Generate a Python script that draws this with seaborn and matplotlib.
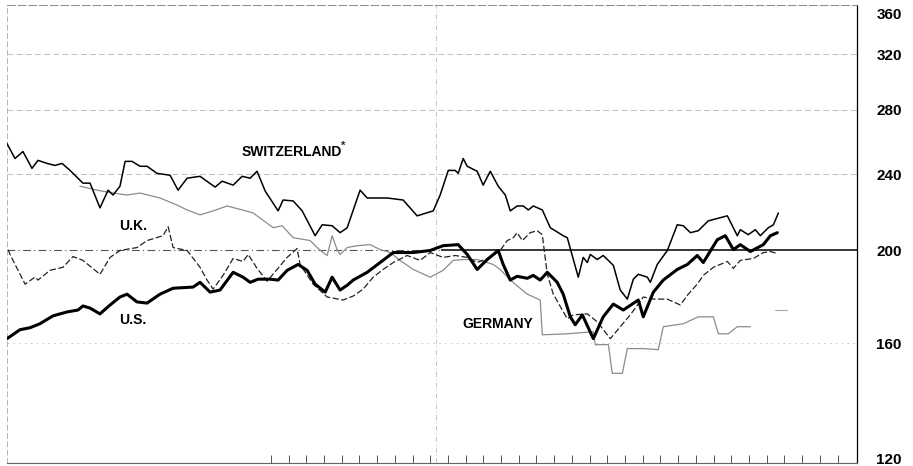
import matplotlib

matplotlib.use("Agg")
import matplotlib.pyplot as plt
import matplotlib.transforms as mtransforms
import seaborn as sns

# x = months from the left edge of the chart, y = index value (log scale)
SWISS_X = [0, 0.45, 0.9, 1.41, 1.75, 2.26, 2.71, 3.11, 3.56, 4.29, 4.69, 5.25, 5.71, 5.99, 6.38,
           6.67, 7.06, 7.51, 7.91, 8.47, 9.21, 9.66, 10.17, 10.9, 11.75, 12.15, 12.77, 13.28, 13.73,
           14.12, 14.58, 15.31, 15.59, 16.16, 16.67, 17.4, 17.8, 18.36, 18.81, 19.21, 19.94, 20.34,
           21.47, 22.37, 23.16, 24.07, 24.46, 24.92, 25.31, 25.48, 25.76, 25.99, 26.55, 26.89, 27.29,
           27.74, 28.14, 28.42, 28.81, 29.15, 29.44, 29.72, 30.23, 30.68, 31.41, 31.64, 32.26, 32.54,
           32.77, 32.94, 33.33, 33.67, 34.24, 34.63, 35.03, 35.37, 35.65, 36.16, 36.33, 36.72, 37.29,
           37.85, 38.19, 38.59, 39.04, 39.6, 40.68, 41.24, 41.41, 41.86, 42.26, 42.54, 42.99, 43.28,
           43.56]
SWISS_Y = [258.2, 249.1, 253.3, 243.3, 248.0, 246.2, 245.0, 246.2, 242.1, 234.8, 234.8, 221.3, 230.9,
           228.2, 233.1, 247.4, 247.4, 244.5, 244.5, 240.4, 239.3, 230.9, 237.6, 238.7, 232.6, 235.9,
           233.7, 238.7, 237.6, 241.6, 230.4, 219.7, 225.5, 225.0, 219.7, 207.0, 212.5, 212.0, 208.5,
           211.0, 230.9, 226.6, 226.6, 225.5, 217.1, 219.7, 228.2, 242.1, 242.1, 240.4, 249.1, 244.5,
           241.6, 233.7, 241.6, 233.1, 228.2, 219.7, 222.3, 222.3, 220.2, 222.3, 220.2, 211.0, 207.0,
           206.0, 187.4, 196.5, 194.1, 197.9, 195.5, 197.4, 192.8, 181.7, 177.8, 186.5, 188.7, 187.4,
           185.1, 193.2, 199.8, 212.5, 212.0, 208.5, 209.5, 214.5, 217.1, 207.0, 210.0, 207.5, 210.0,
           207.0, 211.0, 212.5, 218.6]

US_X = [0, 0.73, 1.3, 1.86, 2.6, 3.39, 4.01, 4.29, 4.69, 5.25, 5.82, 6.38, 6.78, 7.34, 7.91, 8.64,
        9.38, 10.51, 10.9, 11.47, 12.03, 12.77, 13.33, 13.73, 14.18, 14.86, 15.31, 15.82, 16.44,
        16.95, 17.4, 17.97, 18.36, 18.81, 19.21, 19.55, 20.34, 21.07, 21.81, 22.94, 23.9, 24.63,
        25.48, 25.99, 26.55, 27.12, 27.74, 28.02, 28.42, 28.81, 29.38, 29.72, 30.11, 30.51, 31.07,
        31.41, 31.81, 32.09, 32.49, 33.11, 33.67, 34.24, 34.8, 35.31, 35.65, 35.93, 36.5, 37.06,
        37.85, 38.42, 38.98, 39.32, 40.11, 40.56, 41.02, 41.41, 41.98, 42.71, 43.11, 43.5]
US_Y = [161.7, 165.2, 166.0, 167.6, 170.8, 172.4, 173.2, 174.9, 174.0, 171.6, 175.3, 178.7, 179.9,
        176.6, 176.1, 179.9, 182.5, 183.0, 185.1, 180.8, 181.7, 189.6, 187.4, 185.1, 186.5, 186.5,
        186.1, 190.5, 193.2, 190.5, 184.3, 180.8, 187.4, 181.7, 183.8, 186.1, 189.6, 194.1, 198.8,
        198.8, 199.8, 202.1, 202.6, 197.9, 190.9, 195.5, 199.8, 193.2, 186.1, 187.8, 186.9, 188.2,
        186.1, 189.6, 185.1, 179.9, 170.4, 167.2, 171.2, 161.7, 170.4, 175.7, 173.2, 175.7, 177.4,
        170.4, 180.8, 186.1, 190.9, 193.2, 197.4, 194.1, 205.0, 207.0, 200.2, 202.6, 199.3, 202.6,
        207.0, 208.5]

UK_X = [0.06, 0.17, 1.02, 1.58, 1.75, 2.43, 3.16, 3.73, 4.29, 5.25, 5.82, 6.38, 7.34, 7.91, 8.81,
        9.1, 9.38, 10.17, 10.9, 11.3, 11.64, 12.2, 12.77, 13.33, 13.62, 14.12, 14.69, 15.25, 15.82,
        16.38, 16.55, 17.29, 18.08, 18.98, 19.55, 20.11, 20.68, 21.24, 21.81, 22.6, 23.33, 23.9,
        24.63, 25.31, 25.99, 26.55, 27.29, 27.85, 28.25, 28.59, 28.81, 29.1, 29.55, 29.94, 30.23,
        30.34, 30.51, 30.85, 31.64, 31.98, 32.77, 33.33, 34.07, 34.63, 35.2, 35.93, 36.5, 37.29,
        38.02, 38.47, 38.98, 39.32, 39.89, 40.68, 41.02, 41.41, 42.15, 42.71, 43.11, 43.5]
UK_Y = [200.2, 197.9, 184.3, 187.4, 186.1, 190.5, 191.9, 196.9, 195.1, 188.7, 196.5, 199.8, 201.2,
        204.6, 207.0, 211.5, 201.2, 199.8, 191.9, 186.1, 182.1, 188.2, 196.0, 194.6, 197.9, 191.4,
        185.6, 190.9, 196.5, 200.7, 193.2, 184.3, 178.7, 177.4, 179.1, 182.1, 187.4, 190.9, 194.1,
        197.4, 195.1, 198.8, 196.5, 197.4, 196.5, 194.1, 196.5, 199.8, 204.6, 206.0, 208.5, 204.6,
        208.5, 209.5, 207.5, 199.8, 188.7, 179.9, 169.6, 171.2, 171.6, 168.4, 161.7, 166.4, 171.2,
        178.7, 177.8, 177.8, 175.3, 179.9, 184.3, 188.2, 191.9, 194.6, 191.4, 195.1, 196.0, 198.8,
        199.3, 198.3]

GERMANY_X = [4.12, 5.08, 5.99, 6.78, 7.51, 8.64, 9.6, 10.17, 10.9, 11.64, 12.43, 13.28, 13.9, 15.03,
             15.54, 16.16, 17.12, 17.51, 17.85, 18.08, 18.36, 18.64, 18.81, 19.21, 19.77, 20.51,
             21.07, 21.64, 22.2, 22.94, 23.9, 24.63, 25.2, 25.76, 26.55, 27.46, 27.85, 28.42, 29.38,
             30.11, 30.23, 31.64, 33.11, 33.22, 33.96, 34.18, 34.75, 35.03, 35.93, 36.78, 37.06,
             38.19, 39.04, 39.89, 40.17, 40.73, 41.24, 41.98]
GERMANY_Y = [233.1, 230.9, 229.3, 228.2, 229.3, 226.6, 222.8, 220.2, 217.6, 219.7, 222.3, 220.2,
             218.6, 211.0, 212.0, 206.0, 204.6, 201.2, 198.8, 197.4, 207.0, 200.2, 197.9, 201.2,
             202.1, 202.6, 200.2, 198.8, 195.1, 190.9, 187.4, 190.5, 195.1, 195.5, 195.5, 193.2,
             190.9, 186.1, 179.9, 177.4, 163.2, 163.6, 164.4, 159.4, 159.4, 148.8, 148.8, 157.9,
             157.9, 157.5, 166.4, 167.6, 170.4, 170.4, 163.6, 163.6, 166.4, 166.4]
GERMANY_TAIL_X = [43.39, 44.07]
GERMANY_TAIL_Y = [173.2, 173.2]

Y_TICKS = [120, 160, 200, 240, 280, 320, 360]
GRID_LEVELS = [240, 280, 320]

sns.set_theme(style="white")
plt.rcParams["font.family"] = ["Liberation Sans", "DejaVu Sans"]

fig = plt.figure(figsize=(9.13, 4.66), dpi=100)
ax = fig.add_axes([7 / 913, 3 / 466, 850 / 913, 458 / 466])
ax.set_yscale("log")

# faint background rules
for lvl in GRID_LEVELS:
    ax.axhline(lvl, color="#b4b4b4", lw=0.6, ls=(0, (7, 4)), zorder=1)
ax.axhline(160, color="#c4c4c4", lw=0.6, ls=(0, (2, 5)), zorder=1)
ax.axvline(24.2, color="#bdbdbd", lw=0.6, ls=(0, (6, 3, 1, 3)), zorder=1)
ax.hlines(200, 0, 24.5, color="#555555", lw=0.8, ls=(0, (7, 3, 1, 3)), zorder=2)
ax.hlines(200, 24.5, 48, color="black", lw=1.1, zorder=2)

sns.lineplot(x=GERMANY_X, y=GERMANY_Y, ax=ax, color="#8c8c8c", linewidth=0.9, zorder=3)
sns.lineplot(x=GERMANY_TAIL_X, y=GERMANY_TAIL_Y, ax=ax, color="#a8a8a8", linewidth=0.8, zorder=3)
sns.lineplot(x=UK_X, y=UK_Y, ax=ax, color="#222222", linewidth=0.9,
             linestyle=(0, (5, 2)), zorder=4)
sns.lineplot(x=SWISS_X, y=SWISS_Y, ax=ax, color="black", linewidth=1.1, zorder=5)
sns.lineplot(x=US_X, y=US_Y, ax=ax, color="black", linewidth=2.2, zorder=6)

label_kw = dict(fontsize=10, fontweight="bold", color="black", ha="center", va="center")
ax.text(16.1, 253.3, "SWITZERLAND", **label_kw)
ax.text(19.0, 256.8, "*", fontsize=8, fontweight="bold", ha="center", va="center")
ax.text(7.1, 212.0, "U.K.", **label_kw)
ax.text(7.1, 169.2, "U.S.", **label_kw)
ax.text(27.7, 167.6, "GERMANY", **label_kw)

ax.set_xlim(0, 48)
ax.set_ylim(120, 360)
ax.yaxis.tick_right()
ax.set_yticks(Y_TICKS)
ax.set_yticklabels([str(v) for v in Y_TICKS])
ax.yaxis.set_minor_locator(matplotlib.ticker.NullLocator())
ax.tick_params(axis="y", length=0, pad=14, labelsize=11, labelcolor="black")
for lab in ax.get_yticklabels():
    lab.set_fontweight("bold")
# nudge the end labels inside the frame, as on the original
ylabs = ax.get_yticklabels()
ylabs[0].set_transform(ylabs[0].get_transform()
                       + mtransforms.ScaledTranslation(0, 4 / 100, fig.dpi_scale_trans))
ylabs[-1].set_transform(ylabs[-1].get_transform()
                        + mtransforms.ScaledTranslation(0, -9 / 100, fig.dpi_scale_trans))

# small inward month ticks along the base
ax.set_xticks([m + 0.9 for m in range(14, 47)])
ax.set_xticklabels([])
ax.tick_params(axis="x", direction="in", length=6, width=0.7, color="#555555", bottom=True)

ax.set_xlabel("")
ax.set_ylabel("")
ax.grid(False)
ax.spines["right"].set_color("black")
ax.spines["right"].set_linewidth(0.9)
ax.spines["bottom"].set_color("#666666")
ax.spines["bottom"].set_linewidth(0.8)
ax.spines["top"].set_color("#888888")
ax.spines["top"].set_linewidth(0.7)
ax.spines["top"].set_linestyle((0, (8, 3)))
ax.spines["left"].set_color("#aaaaaa")
ax.spines["left"].set_linewidth(0.6)
ax.spines["left"].set_linestyle((0, (6, 4)))

fig.savefig("out.png", dpi=100)
plt.close(fig)
